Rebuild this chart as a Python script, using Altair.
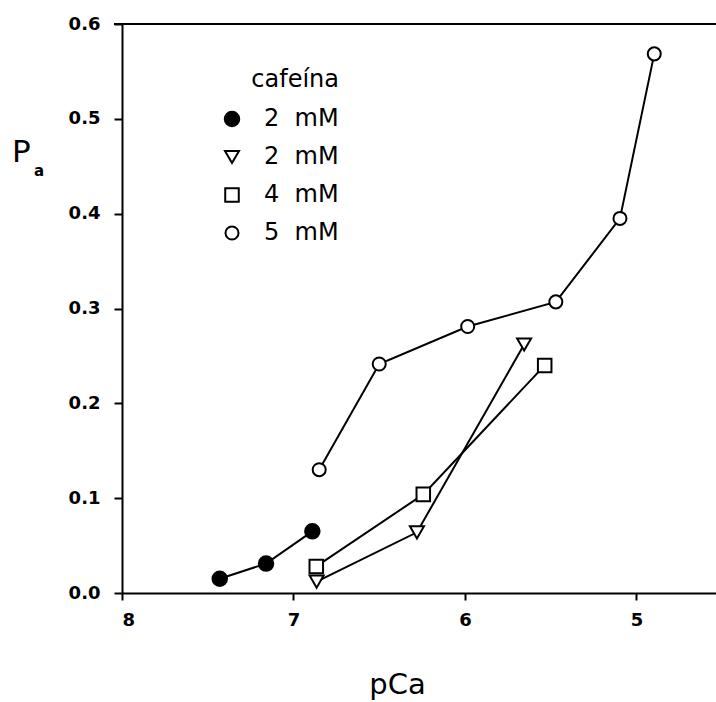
import altair as alt
import pandas as pd

# --- data -------------------------------------------------------------------
series_ids = ["a", "b", "c", "d"]
series_labels = ["2\u00a0\u00a0mM", "2\u00a0\u00a0mM", "4\u00a0\u00a0mM", "5\u00a0\u00a0mM"]
shapes = ["circle", "triangle-down", "square", "circle"]
fills = ["black", "white", "white", "white"]
sizes = [210, 170, 160, 165]

pca_a = [7.43, 7.16, 6.89]
po_a = [0.015, 0.031, 0.065]
pca_b = [6.865, 6.28, 5.655]
po_b = [0.012, 0.064, 0.262]
pca_c = [6.867, 6.243, 5.535]
po_c = [0.028, 0.104, 0.240]
pca_d = [6.85, 6.50, 5.984, 5.47, 5.096, 4.896]
po_d = [0.130, 0.2415, 0.281, 0.307, 0.395, 0.5685]

x_ticks = [8, 7, 6, 5]
y_ticks = [0.0, 0.1, 0.2, 0.3, 0.4, 0.5, 0.6]

rows = []
for sid, xs, ys in zip(series_ids, [pca_a, pca_b, pca_c, pca_d], [po_a, po_b, po_c, po_d]):
    for xv, yv in zip(xs, ys):
        rows.append({"serie": sid, "pCa": xv, "Pa": yv})
df = pd.DataFrame(rows)

FONT = "DejaVu Sans"
W, H = 594, 569

label_map = "{" + ",".join(f"'{s}':'{l}'" for s, l in zip(series_ids, series_labels)) + "}"
leg = alt.Legend(title="cafeína", labelExpr=f"{label_map}[datum.label]")

x_enc = alt.X(
    "pCa:Q",
    scale=alt.Scale(domain=[4.536, 8], reverse=True, nice=False, zero=False),
    axis=alt.Axis(
        values=x_ticks, format="d", title="pCa", titleX=275, titleY=100,
        titleBaseline="alphabetic", titleFontSize=29, titleFontWeight="normal",
        titleAnchor="start", titleAlign="center",
        tickSize=7, labelPadding=11, labelFontSize=18, labelFontWeight="bold",
    ),
)
y_enc = alt.Y(
    "Pa:Q",
    scale=alt.Scale(domain=[0, 0.6], nice=False, zero=True),
    axis=alt.Axis(
        values=y_ticks, format=".1f", title=None,
        tickSize=8, labelPadding=14, labelFontSize=18, labelFontWeight="bold",
    ),
)

lines = alt.Chart(df).mark_line(color="black", strokeWidth=2).encode(
    x=x_enc, y=y_enc, detail="serie:N"
)

points = alt.Chart(df).mark_point(
    filled=True, strokeWidth=2, opacity=1, fillOpacity=1
).encode(
    x=x_enc,
    y=y_enc,
    shape=alt.Shape("serie:N", scale=alt.Scale(domain=series_ids, range=shapes), legend=leg),
    fill=alt.Fill("serie:N", scale=alt.Scale(domain=series_ids, range=fills), legend=leg),
    stroke=alt.Stroke("serie:N", scale=alt.Scale(domain=series_ids, range=["black"] * 4), legend=leg),
    size=alt.Size("serie:N", scale=alt.Scale(domain=series_ids, range=sizes), legend=leg),
)

top_rule = alt.Chart(pd.DataFrame({"v": [0.6]})).mark_rule(
    color="black", strokeWidth=2
).encode(y=alt.Y("v:Q", scale=alt.Scale(domain=[0, 0.6], nice=False)),
         x=alt.value(-8), x2=alt.value(W))

p_title = alt.Chart(pd.DataFrame({"t": ["P"]})).mark_text(
    font=FONT, fontSize=31, align="left", baseline="alphabetic", color="black"
).encode(text="t:N", x=alt.value(-110), y=alt.value(138))

p_sub = alt.Chart(pd.DataFrame({"t": ["a"]})).mark_text(
    font=FONT, fontSize=15, fontWeight="bold", align="center", baseline="alphabetic", color="black"
).encode(text="t:N", x=alt.value(-83), y=alt.value(152))

chart = alt.layer(lines, top_rule, points, p_title, p_sub).properties(
    width=W, height=H,
    autosize=alt.AutoSizeParams(type="none"),
    padding={"left": 122, "top": 24, "right": 0, "bottom": 109},
).configure_view(stroke=None).configure_axis(
    grid=False, domainColor="black", domainWidth=2, tickColor="black", tickWidth=2,
    labelColor="black", titleColor="black", labelFont=FONT, titleFont=FONT,
).configure_legend(
    orient="none", legendX=98, legendY=44, padding=0,
    titleFont=FONT, labelFont=FONT, titleFontSize=24, labelFontSize=24,
    titleFontWeight="normal", titleColor="black", labelColor="black",
    titleAnchor="end", titlePadding=15, rowPadding=14, labelOffset=20,
    symbolStrokeWidth=2,
)

chart.save("out.html", embed_options={"renderer": "svg", "actions": False})
